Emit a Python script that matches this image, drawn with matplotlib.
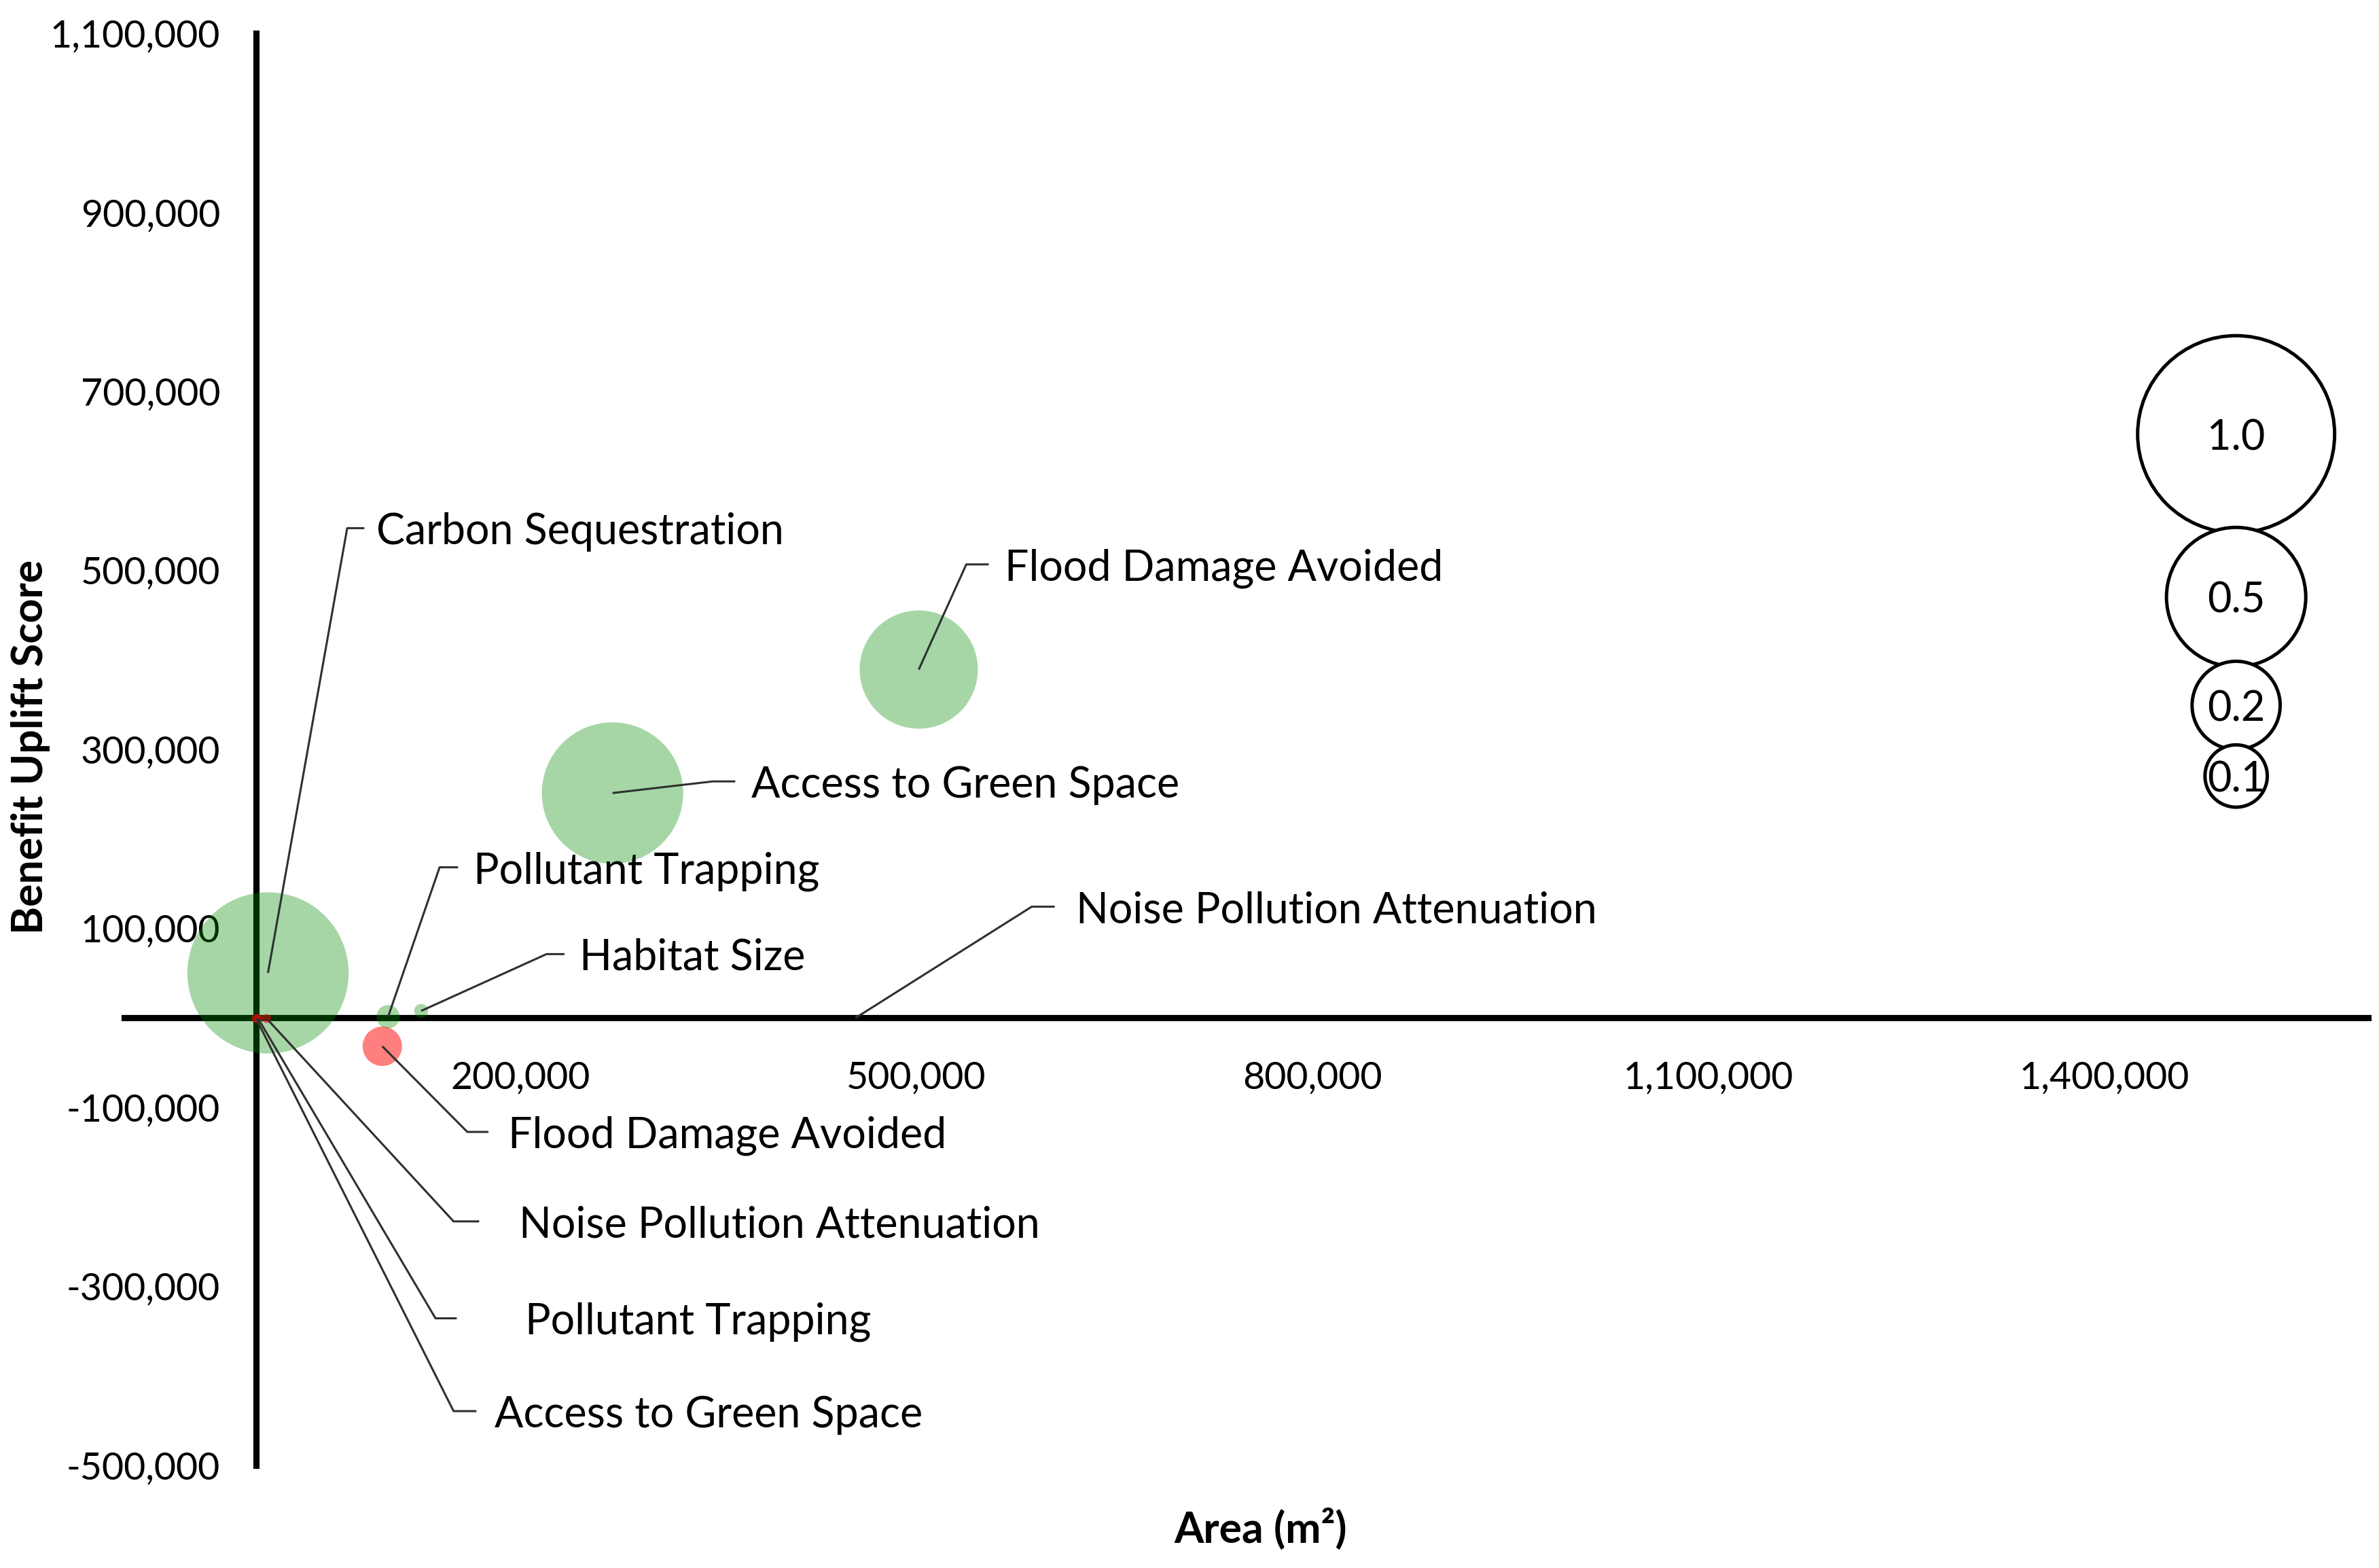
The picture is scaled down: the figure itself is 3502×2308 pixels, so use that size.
import matplotlib
matplotlib.use("Agg")
import matplotlib.pyplot as plt

# ---------------- data ----------------
pos_names = ["Carbon Sequestration", "Access to Green Space", "Flood Damage Avoided",
             "Pollutant Trapping", "Habitat Size", "Noise Pollution Attenuation"]
pos_area = [9000, 270000, 502000, 100000, 125000, 455000]
pos_score = [50000, 251000, 389000, 1000, 7500, 500]
pos_size = [0.67, 0.515, 0.36, 0.014, 0.005, 0.0004]

neg_names = ["Flood Damage Avoided", "Noise Pollution Attenuation",
             "Pollutant Trapping", "Access to Green Space"]
neg_area = [95600, 8000, 1500, 0]
neg_score = [-32000, -1000, -1000, -1000]
neg_size = [0.04, 0.0021, 0.0021, 0.0021]

key_area = [1500000, 1500000, 1500000, 1500000]
key_score = [652000, 470000, 349000, 270000]
key_size = [1.0, 0.5, 0.2, 0.1]
key_labels = ["1.0", "0.5", "0.2", "0.1"]

x_ticks = [200000, 500000, 800000, 1100000, 1400000]
y_ticks = [-500000, -300000, -100000, 100000, 300000, 500000, 700000, 900000, 1100000]

# label layout (data coords): text x, text y, leader elbow x0, leader end x1
pos_label_layout = [
    (91000, 547000, 69000, 82000),
    (375000, 264000, 346000, 363000),
    (567000, 506500, 538000, 555000),
    (164600, 168000, 139000, 153000),
    (245000, 71000, 220000, 233600),
    (621000, 124000, 587600, 605000),
]
neg_label_layout = [
    (191000, -127700, 160000, 176000),
    (199000, -227700, 149600, 169000),
    (203700, -336000, 135900, 152000),
    (180700, -439700, 149600, 166900),
]

# ---------------- style ----------------
W, H, DPI = 3502, 2308, 200
FONT = "Lato"
plt.rcParams["font.family"] = [FONT, "DejaVu Sans"]
BUBBLE_S = (2 * 145 * 72 / DPI) ** 2   # marker area (pt^2) for size 1.0

fig = plt.figure(figsize=(W / DPI, H / DPI), dpi=DPI)
ax = fig.add_axes([182.7 / W, 1 - 2156.5 / H, (3486 - 182.7) / W, (2156.5 - 49) / H])
ax.set_xlim(-100000, 1600000)
ax.set_ylim(-500000, 1100000)

for s in ["top", "right"]:
    ax.spines[s].set_visible(False)
for s in ["left", "bottom"]:
    ax.spines[s].set_position(("data", 0))
    ax.spines[s].set_linewidth(3.3)
    ax.spines[s].set_color("black")

ax.set_xticks(x_ticks)
ax.set_yticks(y_ticks)
ax.set_xticklabels([f"{v:,}" for v in x_ticks])
ax.set_yticklabels([f"{v:,}" for v in y_ticks])
ax.tick_params(axis="both", length=0, labelsize=20, colors="black")
ax.tick_params(axis="x", pad=23)
ax.tick_params(axis="y", pad=19)

# bubbles
ax.scatter(pos_area, pos_score, s=[v * BUBBLE_S for v in pos_size],
           color=(0.0, 0.55, 0.0), alpha=0.35, linewidths=0, zorder=3)
ax.scatter(neg_area, neg_score, s=[v * BUBBLE_S for v in neg_size],
           color=(1.0, 0.0, 0.0), alpha=0.5, linewidths=0, zorder=3)

# key bubbles
ax.scatter(key_area, key_score, s=[v * BUBBLE_S for v in key_size],
           facecolor="white", edgecolor="black", linewidths=1.8, zorder=3)
for xa, ya, lab in zip(key_area, key_score, key_labels):
    ax.text(xa, ya, lab, ha="center", va="center_baseline", fontsize=22, zorder=4)

# labels with leader lines
def draw_labels(xs, ys, names, layout):
    for xa, ya, name, (tx, ty, x0, x1) in zip(xs, ys, names, layout):
        ax.plot([xa, x0, x1], [ya, ty, ty], color="#303030", lw=1.1, zorder=5,
                solid_capstyle="butt")
        ax.text(tx, ty, name, ha="left", va="center_baseline", fontsize=22.6, zorder=6)

draw_labels(pos_area, pos_score, pos_names, pos_label_layout)
draw_labels(neg_area, neg_score, neg_names, neg_label_layout)

fig.text(1856 / W, 1 - 2251 / H, "Area (m²)", ha="center", va="center",
         fontsize=22.5, fontweight="bold")
fig.text(45 / W, 1 - 1099 / H, "Benefit Uplift Score", ha="center", va="center",
         rotation=90, fontsize=22.5, fontweight="bold")

fig.savefig("out.png", dpi=DPI, facecolor="white")
